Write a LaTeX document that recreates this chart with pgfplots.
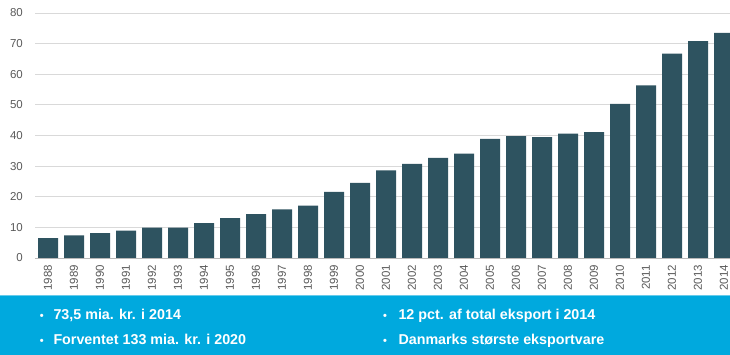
\documentclass[border=0pt]{standalone}
\usepackage{fontspec}
\setmainfont{Liberation Sans}
\newfontfamily\bandfont{Liberation Sans Bold}
\usepackage{pgfplots}
\pgfplotsset{compat=1.18}
\definecolor{barcol}{HTML}{2E5360}
\definecolor{bandcol}{HTML}{00A9DE}
\definecolor{gridcol}{HTML}{D9D9D9}
\definecolor{ticktext}{HTML}{595959}
\begin{document}
\begin{tikzpicture}
\useasboundingbox (0,0) rectangle (730bp,355bp);
% bottom band
\fill[bandcol] (0,0) rectangle (730bp,60bp);
\draw[bandcol!60!white, line width=0.8bp] (0,59.6bp) -- (730bp,59.6bp);
\begin{axis}[
  at={(35bp,97bp)}, anchor=south west,
  scale only axis, width=695bp, height=245bp,
  xmin=1987.5, xmax=2014.23, ymin=0, ymax=80,
  ytick={0,10,...,80},
  xtick={1988,...,2014},
  /pgf/number format/assume math mode=true,
  /pgf/number format/1000 sep={},
  tick style={draw=none},
  axis lines*=left,
  y axis line style={draw=none},
  x axis line style={draw=gray!55, line width=0.8bp, -},
  ymajorgrids, grid style={draw=gridcol, line width=0.8bp},
  ticklabel style={font=\fontsize{11.5bp}{13bp}\selectfont, text=ticktext},
  xticklabel style={rotate=90, anchor=east, inner xsep=7bp},
  yticklabel style={anchor=east, inner xsep=12bp},
  clip=true,
]
\addplot[ybar, bar width=20bp, bar shift=0pt, fill=barcol, draw=none]
coordinates {
(1988,6.5) (1989,7.4) (1990,8.1) (1991,8.9) (1992,9.9) (1993,9.9)
(1994,11.4) (1995,13.0) (1996,14.3) (1997,15.9) (1998,17.1) (1999,21.6)
(2000,24.5) (2001,28.6) (2002,30.7) (2003,32.7) (2004,34.1) (2005,38.9)
(2006,39.8) (2007,39.5) (2008,40.6) (2009,41.1) (2010,50.3) (2011,56.4)
(2012,66.7) (2013,70.8) (2014,73.5)
};
\end{axis}
% key facts in the band
\begin{scope}[every node/.style={inner sep=0pt, text=white, font=\bandfont\fontsize{14.3bp}{16bp}\selectfont}]
\node[anchor=base] at (41.7bp,36bp) {\fontsize{11bp}{12bp}\selectfont •};
\node[anchor=base west] at (53.3bp,36bp) {73,5 mia. kr. i 2014};
\node[anchor=base] at (41.7bp,11bp) {\fontsize{11bp}{12bp}\selectfont •};
\node[anchor=base west] at (53.3bp,11bp) {Forventet 133 mia. kr. i 2020};
\node[anchor=base] at (385bp,36bp) {\fontsize{11bp}{12bp}\selectfont •};
\node[anchor=base west] at (398.3bp,36bp) {12 pct. af total eksport i 2014};
\node[anchor=base] at (385bp,11bp) {\fontsize{11bp}{12bp}\selectfont •};
\node[anchor=base west] at (398.3bp,11bp) {Danmarks største eksportvare};
\end{scope}
\end{tikzpicture}
\end{document}
